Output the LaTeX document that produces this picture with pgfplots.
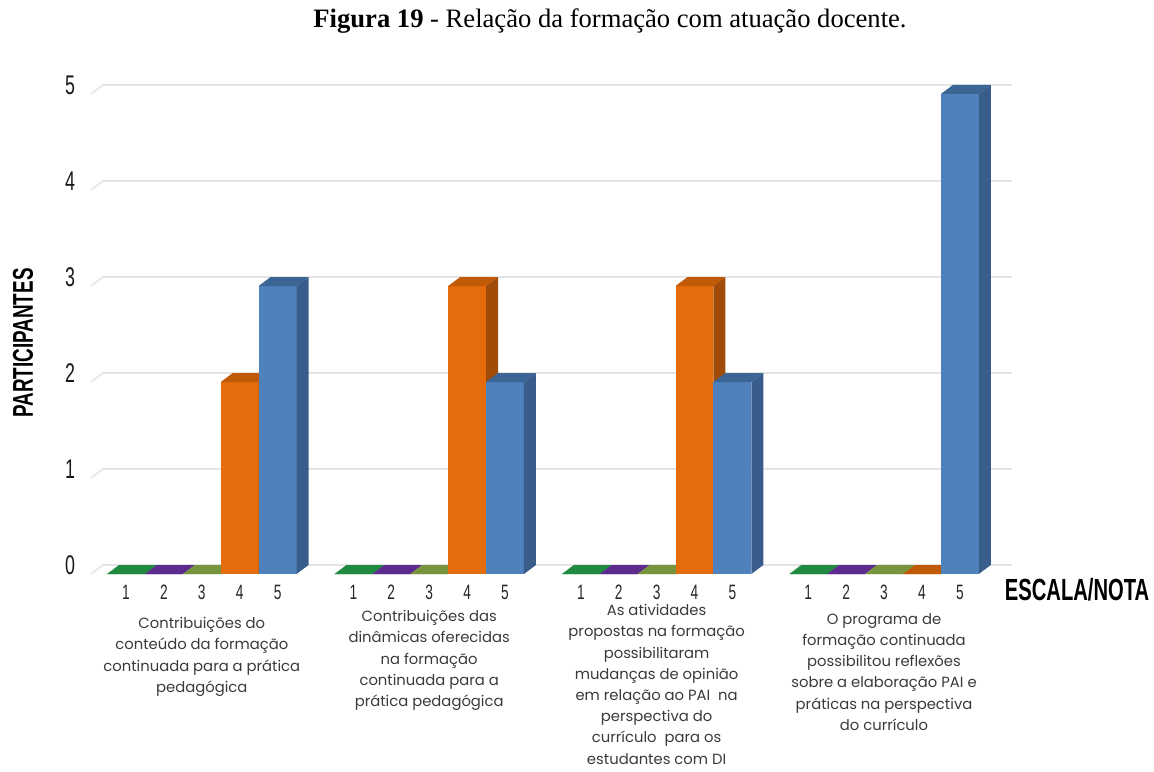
\documentclass[border=0pt]{standalone}
\usepackage{pgfplots}
\pgfplotsset{compat=1.18}
\usepackage{pgfplotstable}
\usepackage{fontspec}
\setmainfont{Liberation Serif}
\newfontfamily\rotulo{Poppins}
\newfontfamily\estreita[FakeStretch=0.66]{Liberation Sans}

% face colours of the 3D bars: front, top, side
\definecolor{frente1}{HTML}{2A9A4C}\definecolor{topo1}{HTML}{1F8A40}\definecolor{lado1}{HTML}{17692F}
\definecolor{frente2}{HTML}{7030A0}\definecolor{topo2}{HTML}{5D2A8E}\definecolor{lado2}{HTML}{48216E}
\definecolor{frente3}{HTML}{9BBB59}\definecolor{topo3}{HTML}{78953E}\definecolor{lado3}{HTML}{5E7530}
\definecolor{frente4}{HTML}{E46C0A}\definecolor{topo4}{HTML}{C05A06}\definecolor{lado4}{HTML}{A04C08}
\definecolor{frente5}{HTML}{4F81BD}\definecolor{topo5}{HTML}{3B6595}\definecolor{lado5}{HTML}{385D8A}
\definecolor{grade}{HTML}{E4E4E4}
\definecolor{texto}{HTML}{3A3A3A}

% number of participants per score (1..5) in each item
\pgfplotstableread{
pos n1 n2 n3 n4 n5
0   0  0  0  2  3
6   0  0  0  3  2
12  0  0  0  3  2
18  0  0  0  0  5
}\dados

% 3D bar drawn from the data point (front centre, back-plane value)
\pgfdeclareplotmark{barra3d}{%
  \pgfmathsetlengthmacro\alt{\valor*48pt}%
  \pgfmathsetlengthmacro\base{-4.5pt-\alt}%
  % front face
  \pgfpathrectangle{\pgfpoint{-9.475pt}{\base}}{\pgfpoint{18.95pt}{\alt}}%
  \pgfsetfillcolor{frente\serie}\pgfusepath{fill}%
  % top face
  \pgfpathmoveto{\pgfpoint{-9.475pt}{-4.5pt}}%
  \pgfpathlineto{\pgfpoint{9.475pt}{-4.5pt}}%
  \pgfpathlineto{\pgfpoint{15.475pt}{0pt}}%
  \pgfpathlineto{\pgfpoint{-3.475pt}{0pt}}%
  \pgfpathclose
  \pgfsetfillcolor{topo\serie}\pgfusepath{fill}%
  % side face
  \pgfpathmoveto{\pgfpoint{9.475pt}{-4.5pt}}%
  \pgfpathlineto{\pgfpoint{15.475pt}{0pt}}%
  \pgfpathlineto{\pgfpoint{15.475pt}{-\alt}}%
  \pgfpathlineto{\pgfpoint{9.475pt}{\base}}%
  \pgfpathclose
  \pgfsetfillcolor{lado\serie}\pgfusepath{fill}%
}

\pgfplotsset{
  barras/.style n args={2}{
    scatter, only marks, mark=barra3d,
    visualization depends on={\thisrow{#1} \as \valor},
    visualization depends on={value #2 \as \serie},
  },
}

\begin{document}
\begin{tikzpicture}
\useasboundingbox (0,0) rectangle (577pt,385.5pt);
\coordinate (canto) at (51.5pt,103pt);

\node[font=\fontsize{13.3}{15}\selectfont] at (305pt,375pt)
  {\textbf{Figura 19} - Relação da formação com atuação docente.};

\begin{axis}[
  at={(canto)}, anchor=south west,
  x=18.95pt, y=48pt,
  xmin=0.393, xmax=24.38, ymin=0, ymax=5,
  clip=false,
  axis line style={draw=none},
  tick style={draw=none},
  ymajorgrids,
  grid style={color=grade, line width=0.7pt},
  /pgf/number format/assume math mode=true,
  ytick={0,1,2,3,4,5},
  yticklabel style={anchor=center, xshift=-16.5pt, text=black!90,
    font=\estreita\fontsize{13.5}{13.5}\selectfont},
  xtick={1,2,3,4,5,7,8,9,10,11,13,14,15,16,17,19,20,21,22,23},
  xticklabels={1,2,3,4,5,1,2,3,4,5,1,2,3,4,5,1,2,3,4,5},
  xticklabel style={anchor=center, yshift=-13.5pt, text=black!85,
    font=\estreita\fontsize{10.4}{10.4}\selectfont},
  ylabel={PARTICIPANTES},
  ylabel style={at={(axis description cs:-0.088,0.4625)}, anchor=center,
    font=\estreita\bfseries\fontsize{14.3}{14.3}\selectfont},
  xlabel={ESCALA/NOTA},
  xlabel style={at={(axis description cs:1.0715,-0.052)}, anchor=center,
    font=\estreita\bfseries\fontsize{15.3}{15.3}\selectfont},
]
% front edge of the floor and wall grid lines
\pgfplotsinvokeforeach{0,1,2,3,4,5}{
  \draw[grade, line width=0.7pt] (axis cs:0.393,#1) -- ++(-6pt,-4.5pt);
}

\addplot[barras={n1}{1}] table[x expr=\thisrow{pos}+1, y=n1] {\dados};
\addplot[barras={n2}{2}] table[x expr=\thisrow{pos}+2, y=n2] {\dados};
\addplot[barras={n3}{3}] table[x expr=\thisrow{pos}+3, y=n3] {\dados};
\addplot[barras={n4}{4}] table[x expr=\thisrow{pos}+4, y=n4] {\dados};
\addplot[barras={n5}{5}] table[x expr=\thisrow{pos}+5, y=n5] {\dados};

\tikzset{grupo/.style={anchor=north, align=center, inner sep=0pt, text=texto,
  font=\rotulo\fontsize{7.4}{10.6}\selectfont}}
\node[grupo, yshift=-26pt] at (axis cs:3,0)
  {Contribuições do\\conteúdo da formação\\continuada para a prática\\pedagógica};
\node[grupo, yshift=-22.5pt] at (axis cs:9,0)
  {Contribuições das\\dinâmicas oferecidas\\na formação\\continuada para a\\prática pedagógica};
\node[grupo, yshift=-19.5pt] at (axis cs:15,0)
  {As atividades\\propostas na formação\\possibilitaram\\mudanças de opinião\\em relação ao PAI\ \ na\\perspectiva do\\currículo\ \ para os\\estudantes com DI};
\node[grupo, yshift=-24pt] at (axis cs:21,0)
  {O programa de\\formação continuada\\possibilitou reflexões\\sobre a elaboração PAI e\\práticas na perspectiva\\do currículo};
\end{axis}
\end{tikzpicture}
\end{document}
